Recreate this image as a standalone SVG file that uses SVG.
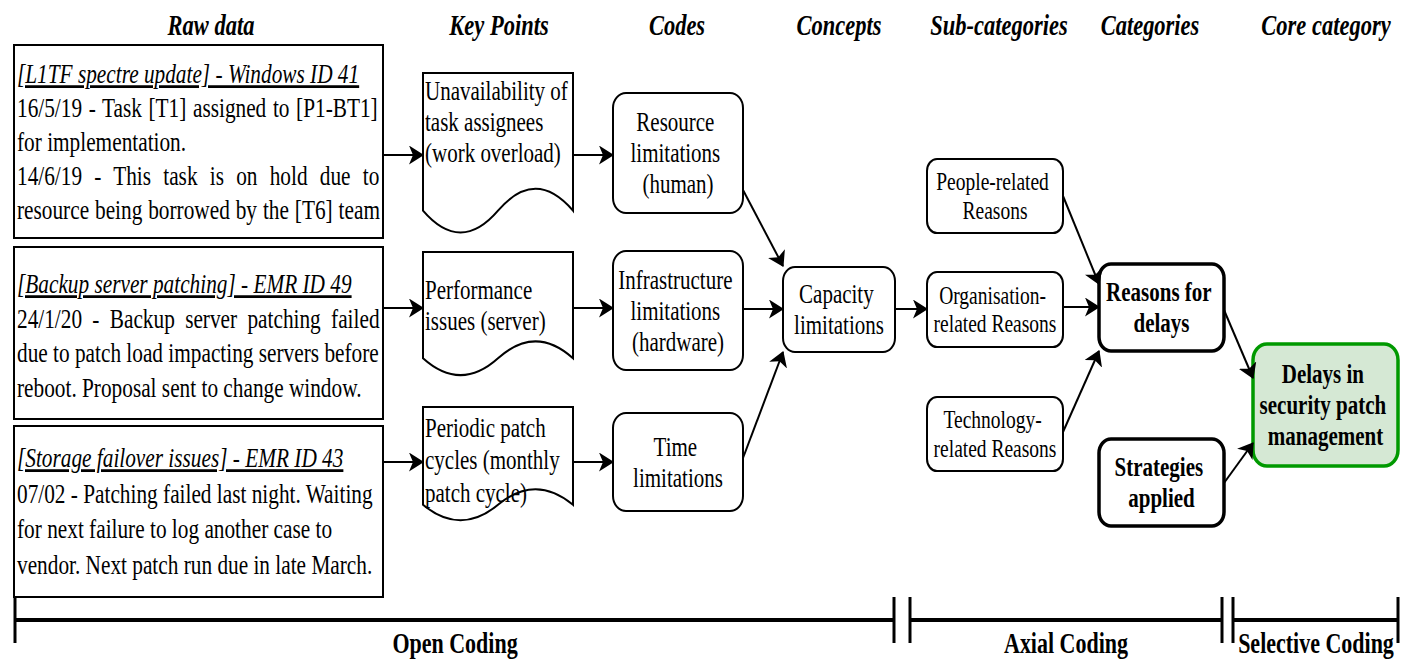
<svg xmlns="http://www.w3.org/2000/svg" width="1402" height="665" viewBox="0 0 1402 665">
  <style>
    text { font-family: "Liberation Serif", "Times New Roman", serif; fill: #000; }
    .hd { font-size: 22.5px; font-weight: bold; font-style: italic; text-anchor: middle; }
    .raw { font-size: 21.3px; }
    .ttl { font-style: italic; text-decoration: underline; }
    .kp { font-size: 21px; }
    .cd { font-size: 21px; text-anchor: middle; }
    .sc { font-size: 19.5px; text-anchor: middle; }
    .cat { font-size: 21px; font-weight: bold; text-anchor: middle; }
    .ph { font-size: 22px; font-weight: bold; text-anchor: middle; }
    .box { fill: #fff; stroke: #000; stroke-width: 2; }
    .cbox { fill: #fff; stroke: #000; stroke-width: 3.5; }
    .core { fill: #d5e8d4; stroke: #009900; stroke-width: 3.5; }
    .conn { fill: none; stroke: #000; stroke-width: 2; marker-end: url(#arr); }
    .bar { stroke: #000; stroke-width: 4; fill: none; }
    .tick { stroke: #000; stroke-width: 3; fill: none; }
  </style>
  <defs>
    <marker id="arr" markerUnits="userSpaceOnUse" viewBox="0 0 15 19" markerWidth="15" markerHeight="19" refX="14" refY="9.5" orient="auto">
      <path d="M0,0 L15,9.5 L0,19 L4,9.5 Z" fill="#000"/>
    </marker>
  </defs>

  <!-- column headings -->
  <g id="headings">
    <text class="hd" transform="translate(211 35) scale(1 1.3)">Raw data</text>
    <text class="hd" transform="translate(499 35) scale(1 1.3)">Key Points</text>
    <text class="hd" transform="translate(677 35) scale(1 1.3)">Codes</text>
    <text class="hd" transform="translate(839 35) scale(1 1.3)">Concepts</text>
    <text class="hd" transform="translate(999 35) scale(1 1.3)">Sub-categories</text>
    <text class="hd" transform="translate(1150 35) scale(1 1.3)">Categories</text>
    <text class="hd" transform="translate(1326 35) scale(1 1.3)">Core category</text>
  </g>

  <!-- raw data excerpts -->
  <g id="raw1">
    <rect class="box" x="14" y="45" width="369" height="193"/>
    <text class="raw" transform="translate(17 83) scale(1 1.3)">
      <tspan class="ttl" x="0">[L1TF spectre update] - Windows ID 41</tspan>
      <tspan x="0" dy="26.15" word-spacing="1.3">16/5/19 - Task [T1] assigned to [P1-BT1]</tspan>
      <tspan x="0" dy="26.15">for implementation.</tspan>
      <tspan x="0" dy="26.15" word-spacing="6.9">14/6/19 - This task is on hold due to</tspan>
      <tspan x="0" dy="26.15" word-spacing="0.6">resource being borrowed by the [T6] team</tspan>
    </text>
  </g>
  <g id="raw2">
    <rect class="box" x="14" y="247" width="369" height="172"/>
    <text class="raw" transform="translate(17 293) scale(1 1.3)">
      <tspan class="ttl" x="0">[Backup server patching] - EMR ID 49</tspan>
      <tspan x="0" dy="26.6" word-spacing="5">24/1/20 - Backup server patching failed</tspan>
      <tspan x="0" dy="26.6">due to patch load impacting servers before</tspan>
      <tspan x="0" dy="26.6">reboot. Proposal sent to change window.</tspan>
    </text>
  </g>
  <g id="raw3">
    <rect class="box" x="14" y="426" width="369" height="171"/>
    <text class="raw" transform="translate(17 467) scale(1 1.3)">
      <tspan class="ttl" x="0">[Storage failover issues] - EMR ID 43</tspan>
      <tspan x="0" dy="27.5">07/02 - Patching failed last night. Waiting</tspan>
      <tspan x="0" dy="27.5">for next failure to log another case to</tspan>
      <tspan x="0" dy="27.5">vendor. Next patch run due in late March.</tspan>
    </text>
  </g>

  <!-- key points (document shapes) -->
  <g id="kp1">
    <path class="box" d="M423,73 H573 V210.7 Q535.5,167 498,210.7 Q460.5,254.4 423,210.7 Z"/>
    <text class="kp" transform="translate(425 100) scale(1 1.3)">
      <tspan x="0">Unavailability of</tspan>
      <tspan x="0" dy="23.85">task assignees</tspan>
      <tspan x="0" dy="23.85">(work overload)</tspan>
    </text>
  </g>
  <g id="kp2">
    <path class="box" d="M423,252 H573 V358.3 Q535.5,324.5 498,358.3 Q460.5,392 423,358.3 Z"/>
    <text class="kp" transform="translate(425 299) scale(1 1.3)">
      <tspan x="0">Performance</tspan>
      <tspan x="0" dy="23.85">issues (server)</tspan>
    </text>
  </g>
  <g id="kp3">
    <path class="box" d="M423,407 H573 V504.8 Q535.5,473.7 498,504.8 Q460.5,535.8 423,504.8 Z"/>
    <text class="kp" transform="translate(425 437) scale(1 1.3)">
      <tspan x="0">Periodic patch</tspan>
      <tspan x="0" dy="25">cycles (monthly</tspan>
      <tspan x="0" dy="25">patch cycle)</tspan>
    </text>
  </g>

  <!-- codes -->
  <g id="code1">
    <rect class="box" x="613" y="93" width="130" height="120" rx="13" ry="15"/>
    <text class="cd" transform="translate(678 131) scale(1 1.3)">
      <tspan x="0">Resource</tspan>
      <tspan x="0" dy="23.85">limitations</tspan>
      <tspan x="0" dy="23.85">(human)</tspan>
    </text>
  </g>
  <g id="code2">
    <rect class="box" x="613" y="251" width="130" height="119" rx="13" ry="15"/>
    <text class="cd" transform="translate(678 289) scale(1 1.3)">
      <tspan x="0">Infrastructure</tspan>
      <tspan x="0" dy="23.85">limitations</tspan>
      <tspan x="0" dy="23.85">(hardware)</tspan>
    </text>
  </g>
  <g id="code3">
    <rect class="box" x="613" y="413" width="130" height="98" rx="13" ry="15"/>
    <text class="cd" transform="translate(678 456) scale(1 1.3)">
      <tspan x="0">Time</tspan>
      <tspan x="0" dy="23.85">limitations</tspan>
    </text>
  </g>

  <!-- concept -->
  <g id="concept">
    <rect class="box" x="783" y="267" width="112" height="85" rx="12" ry="14"/>
    <text class="cd" transform="translate(839 303) scale(1 1.3)">
      <tspan x="0">Capacity</tspan>
      <tspan x="0" dy="23.85">limitations</tspan>
    </text>
  </g>

  <!-- sub-categories -->
  <g id="sub1">
    <rect class="box" x="927" y="159" width="136" height="74" rx="10" ry="12"/>
    <text class="sc" transform="translate(995 190) scale(1 1.3)">
      <tspan x="0">People-related</tspan>
      <tspan x="0" dy="22.3">Reasons</tspan>
    </text>
  </g>
  <g id="sub2">
    <rect class="box" x="927" y="272" width="136" height="75" rx="10" ry="12"/>
    <text class="sc" transform="translate(995 303.5) scale(1 1.3)">
      <tspan x="0">Organisation-</tspan>
      <tspan x="0" dy="22.3">related Reasons</tspan>
    </text>
  </g>
  <g id="sub3">
    <rect class="box" x="927" y="397" width="136" height="74" rx="10" ry="12"/>
    <text class="sc" transform="translate(995 428) scale(1 1.3)">
      <tspan x="0">Technology-</tspan>
      <tspan x="0" dy="22.3">related Reasons</tspan>
    </text>
  </g>

  <!-- categories -->
  <g id="cat1">
    <rect class="cbox" x="1099" y="264" width="125" height="87" rx="12" ry="14"/>
    <text class="cat" transform="translate(1161.5 301) scale(1 1.3)">
      <tspan x="0">Reasons for</tspan>
      <tspan x="0" dy="23.85">delays</tspan>
    </text>
  </g>
  <g id="cat2">
    <rect class="cbox" x="1099" y="439" width="125" height="87" rx="12" ry="14"/>
    <text class="cat" transform="translate(1161.5 476) scale(1 1.3)">
      <tspan x="0">Strategies</tspan>
      <tspan x="0" dy="23.85">applied</tspan>
    </text>
  </g>

  <!-- core category -->
  <g id="core">
    <rect class="core" x="1253" y="344" width="145" height="122" rx="14" ry="16"/>
    <text class="cat" transform="translate(1325.5 383) scale(1 1.3)">
      <tspan x="0">Delays in</tspan>
      <tspan x="0" dy="23.85">security patch</tspan>
      <tspan x="0" dy="23.85">management</tspan>
    </text>
  </g>

  <!-- connectors -->
  <g id="connectors">
    <line class="conn" x1="383" y1="155" x2="423" y2="155"/>
    <line class="conn" x1="573" y1="155" x2="613" y2="155"/>
    <line class="conn" x1="383" y1="308" x2="423" y2="308"/>
    <line class="conn" x1="573" y1="308" x2="613" y2="308"/>
    <line class="conn" x1="383" y1="462" x2="423" y2="462"/>
    <line class="conn" x1="573" y1="462" x2="613" y2="462"/>
    <line class="conn" x1="743" y1="190" x2="783" y2="266"/>
    <line class="conn" x1="743" y1="309" x2="783" y2="309"/>
    <line class="conn" x1="743" y1="458" x2="783" y2="352"/>
    <line class="conn" x1="895" y1="309" x2="927" y2="309"/>
    <line class="conn" x1="1063" y1="196" x2="1099" y2="284"/>
    <line class="conn" x1="1063" y1="307" x2="1099" y2="307"/>
    <line class="conn" x1="1063" y1="432" x2="1099" y2="351"/>
    <line class="conn" x1="1224" y1="310" x2="1253" y2="378"/>
    <line class="conn" x1="1224" y1="483" x2="1253" y2="443"/>
  </g>

  <!-- coding phase brackets -->
  <g id="phases">
    <line class="bar" x1="14" y1="620" x2="894" y2="620"/>
    <line class="bar" x1="910" y1="620" x2="1222" y2="620"/>
    <line class="bar" x1="1233" y1="620" x2="1398" y2="620"/>
    <line class="tick" x1="15" y1="597" x2="15" y2="643"/>
    <line class="tick" x1="894" y1="597" x2="894" y2="643"/>
    <line class="tick" x1="910" y1="597" x2="910" y2="643"/>
    <line class="tick" x1="1222" y1="597" x2="1222" y2="643"/>
    <line class="tick" x1="1233" y1="597" x2="1233" y2="643"/>
    <line class="tick" x1="1398" y1="597" x2="1398" y2="643"/>
    <text class="ph" transform="translate(455 653) scale(1 1.3)">Open Coding</text>
    <text class="ph" transform="translate(1066 653) scale(1 1.3)">Axial Coding</text>
    <text class="ph" transform="translate(1316 653) scale(1 1.3)">Selective Coding</text>
  </g>
</svg>
